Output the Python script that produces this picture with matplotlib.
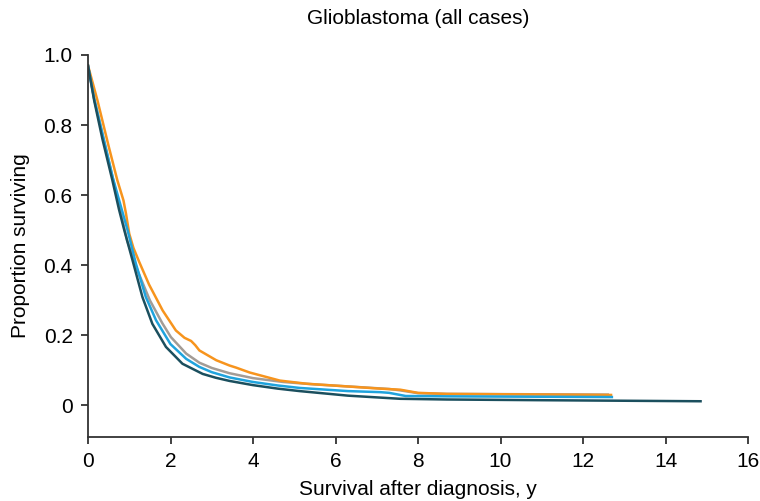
import matplotlib
matplotlib.use("Agg")
import matplotlib.pyplot as plt

# Kurven (Anteil Überlebender über Jahre)
grau_x = [0, 0.15, 0.6, 0.95, 1.2, 1.5, 1.8, 2.01, 2.38, 2.7, 3.0, 3.43, 4.0, 4.73,
          5.5, 6.35, 7.3, 7.57, 8.0, 8.7, 12.6]
grau_y = [0.97, 0.875, 0.65, 0.47, 0.385, 0.30, 0.235, 0.195, 0.148, 0.122, 0.107, 0.092,
          0.078, 0.067, 0.060, 0.054, 0.047, 0.043, 0.035, 0.033, 0.031]

orange_x = [0, 0.23, 0.5, 0.71, 0.86, 0.92, 1.0, 1.1, 1.24, 1.48, 1.81, 2.13, 2.34, 2.5,
            2.6, 2.7, 3.11, 3.43, 3.59, 3.92, 4.3, 4.65, 5.3, 5.94, 7.08, 7.57, 8.0, 8.7,
            12.68]
orange_y = [0.97, 0.87, 0.74, 0.643, 0.585, 0.548, 0.49, 0.45, 0.41, 0.345, 0.271, 0.214,
            0.193, 0.184, 0.172, 0.157, 0.129, 0.114, 0.108, 0.094, 0.082, 0.071, 0.062,
            0.057, 0.048, 0.045, 0.036, 0.033, 0.030]

blau_x = [0, 0.15, 0.6, 0.96, 1.16, 1.4, 1.65, 2.0, 2.38, 2.7, 3.0, 3.43, 4.0, 4.6,
          5.13, 6.3, 7.08, 7.3, 7.7, 8.7, 12.7]
blau_y = [0.97, 0.875, 0.65, 0.50, 0.405, 0.31, 0.243, 0.175, 0.133, 0.110, 0.095, 0.080,
          0.067, 0.057, 0.050, 0.041, 0.038, 0.036, 0.027, 0.026, 0.024]

teal_x = [0, 0.15, 0.35, 0.59, 0.75, 0.88, 1.08, 1.32, 1.56, 1.89, 2.29, 2.78, 3.1, 3.43,
          4.0, 4.6, 5.13, 6.3, 7.57, 8.7, 11, 14.85]
teal_y = [0.97, 0.87, 0.76, 0.643, 0.56, 0.50, 0.414, 0.309, 0.233, 0.167, 0.119, 0.090,
          0.079, 0.070, 0.058, 0.048, 0.041, 0.028, 0.019, 0.017, 0.015, 0.012]

x_ticks = [0, 2, 4, 6, 8, 10, 12, 14, 16]
y_ticks = [0, 0.2, 0.4, 0.6, 0.8, 1.0]
y_labels = ["0", "0.2", "0.4", "0.6", "0.8", "1.0"]

plt.rcParams["font.family"] = ["Liberation Sans", "DejaVu Sans"]

fig = plt.figure(figsize=(7.6, 5.01), dpi=100)
ax = fig.add_axes([88 / 760, 1 - 437 / 501, 660 / 760, 382 / 501])

lw = 1.8
ax.plot(grau_x, grau_y, color="#a39c96", lw=lw)
ax.plot(orange_x, orange_y, color="#f7941d", lw=lw)
ax.plot(blau_x, blau_y, color="#1fa3dd", lw=lw)
ax.plot(teal_x, teal_y, color="#1b4f5e", lw=lw)

ax.set_xlim(0, 16)
ax.set_ylim(-0.09, 1.0)
ax.set_xticks(x_ticks)
ax.set_yticks(y_ticks)
ax.set_yticklabels(y_labels)

for s in ["top", "right"]:
    ax.spines[s].set_visible(False)
for s in ["left", "bottom"]:
    ax.spines[s].set_color("#333333")
    ax.spines[s].set_linewidth(1.3)
ax.tick_params(direction="out", length=5, width=1.3, color="#333333",
               labelsize=15, pad=6)

ax.set_title("Glioblastoma (all cases)", fontsize=15, pad=22)
ax.set_xlabel("Survival after diagnosis, y", fontsize=15, labelpad=6)
ax.set_ylabel("Proportion surviving", fontsize=15, labelpad=10)

plt.savefig("out.png", dpi=100)
